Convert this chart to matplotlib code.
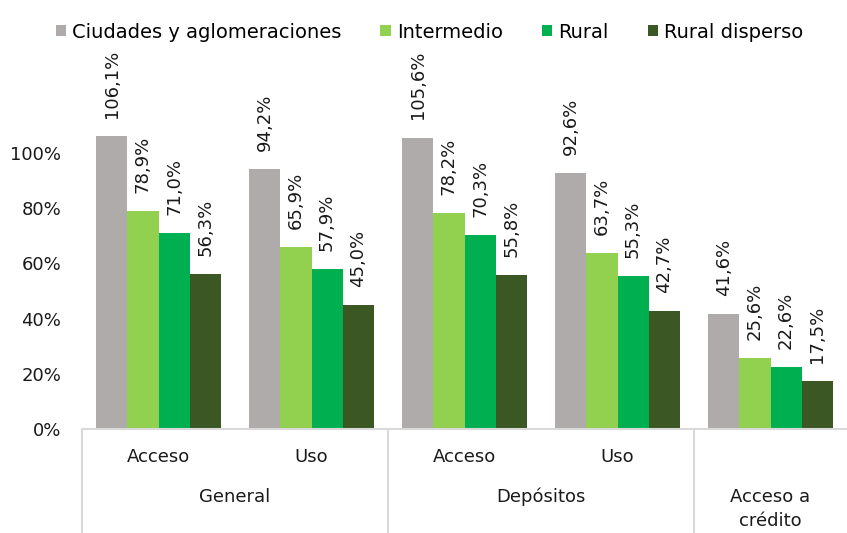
import matplotlib.pyplot as plt
import matplotlib.transforms as mtransforms
import numpy as np

plt.rcParams["font.family"] = ["DejaVu Sans"]

series_names = ["Ciudades y aglomeraciones", "Intermedio", "Rural", "Rural disperso"]
series_colours = ["#AFABAB", "#92D050", "#00B050", "#3A5724"]

ciudades = [106.1, 94.2, 105.6, 92.6, 41.6]
intermedio = [78.9, 65.9, 78.2, 63.7, 25.6]
rural = [71.0, 57.9, 70.3, 55.3, 22.6]
rural_disperso = [56.3, 45.0, 55.8, 42.7, 17.5]

sub_labels = ["Acceso", "Uso", "Acceso", "Uso", ""]
top_labels = ["General", "Depósitos", "Acceso a\ncrédito"]
top_spans = [(0, 1), (2, 3), (4, 4)]

yticks = [0, 20, 40, 60, 80, 100]

values = [ciudades, intermedio, rural, rural_disperso]
text_colour = "#1a1a1a"

fig = plt.figure(figsize=(8.47, 5.33), dpi=100)
ax = fig.add_axes([82 / 847, 104 / 533, 1 - 82 / 847, 429 / 533])

x = np.arange(len(sub_labels))
width = 0.203
for i, (name, colour, vals) in enumerate(zip(series_names, series_colours, values)):
    pos = x + (i - 1.5) * width
    ax.bar(pos, vals, width=width, color=colour, label=name, edgecolor="none")
    for xp, v in zip(pos, vals):
        ax.annotate(f"{v:.1f}%".replace(".", ","), (xp, v), xytext=(0, 13),
                    textcoords="offset points", rotation=90, ha="center",
                    va="bottom", fontsize=13, color=text_colour)

ax.set_xlim(-0.5, len(sub_labels) - 0.5)
ax.set_ylim(0, 429 / 2.76)
ax.set_yticks(yticks)
ax.set_yticklabels([f"{t}%" for t in yticks], fontsize=13, color=text_colour)
ax.tick_params(axis="y", length=0, pad=15)
ax.set_xticks([])
for side in ("top", "right", "left"):
    ax.spines[side].set_visible(False)
ax.spines["bottom"].set_color("#D9D9D9")
ax.spines["bottom"].set_linewidth(1.5)

# separators between the top-level groups, reaching to the bottom edge
trans = mtransforms.blended_transform_factory(ax.transData, ax.transAxes)
bottom = -104 / 429
for b in (-0.5, 1.5, 3.5):
    ax.plot([b, b], [0, bottom], transform=trans, color="#D9D9D9",
            linewidth=1.5, clip_on=False)

for xi, lab in zip(x, sub_labels):
    ax.text(xi, -28 / 429, lab, transform=trans, ha="center", va="center",
            fontsize=13, color=text_colour)

for lab, (a, b) in zip(top_labels, top_spans):
    ax.text((a + b) / 2, -59 / 429, lab, transform=trans, ha="center", va="top",
            fontsize=13, color=text_colour, linespacing=1.45)

fig.legend(loc="center", bbox_to_anchor=(0.507, 1 - 32 / 533), ncol=4,
           frameon=False, fontsize=14, handlelength=0.55, handleheight=0.55,
           handletextpad=0.3, columnspacing=2.0, borderaxespad=0)

fig.savefig("out.png", dpi=100)
